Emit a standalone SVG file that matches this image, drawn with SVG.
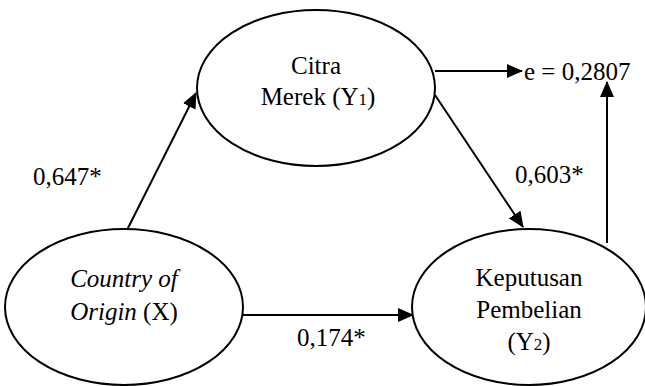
<svg xmlns="http://www.w3.org/2000/svg" width="645" height="386" viewBox="0 0 645 386">
<style>
.node{fill:#fff;stroke:#000;stroke-width:2}
.t{font-family:"Liberation Serif","Times New Roman",serif;font-size:25px;fill:#000;text-anchor:middle}
.l{font-family:"Liberation Serif","Times New Roman",serif;font-size:25px;fill:#000}
.c{stroke:#000;stroke-width:2;fill:none;marker-end:url(#ah)}
</style>
<defs>
<marker id="ah" markerWidth="16" markerHeight="14" refX="15" refY="7" orient="auto" markerUnits="userSpaceOnUse">
<path d="M0,0 L16,7 L0,14 Z" fill="#000"/>
</marker>
</defs>
<g id="connectors">
<line class="c" x1="127" y1="230" x2="196" y2="93"/>
<line class="c" x1="435" y1="95" x2="523" y2="227"/>
<line class="c" x1="242" y1="315" x2="413" y2="315"/>
<line class="c" x1="435" y1="71" x2="522" y2="71"/>
<line class="c" x1="607" y1="243" x2="607" y2="82"/>
</g>
<g id="labels">
<text class="l" x="33" y="185">0,647*</text>
<text class="l" x="515" y="183">0,603*</text>
<text class="l" x="297" y="346">0,174*</text>
<text class="l" x="524" y="80">e = 0,2807</text>
</g>
<g id="citra">
<ellipse class="node" cx="316" cy="88" rx="119" ry="78"/>
<text class="t" x="316" y="74">Citra</text>
<text class="t" x="318" y="105">Merek (Y<tspan font-size="17">1</tspan>)</text>
</g>
<g id="coo">
<ellipse class="node" cx="124" cy="307" rx="119" ry="78"/>
<text class="t" x="124" y="287"><tspan font-style="italic">Country of</tspan></text>
<text class="t" x="124" y="320"><tspan font-style="italic">Origin</tspan> (X)</text>
</g>
<g id="keputusan">
<ellipse class="node" cx="529" cy="307" rx="117" ry="78"/>
<text class="t" x="529" y="286">Keputusan</text>
<text class="t" x="529" y="318">Pembelian</text>
<text class="t" x="529" y="350">(Y<tspan font-size="17">2</tspan>)</text>
</g>
</svg>
